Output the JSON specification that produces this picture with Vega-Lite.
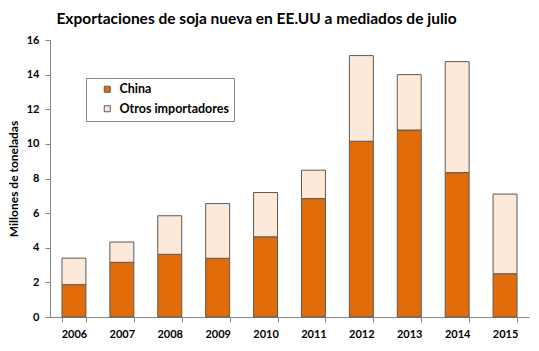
{
  "$schema": "https://vega.github.io/schema/vega-lite/v6.json",
  "width": 479,
  "height": 277,
  "autosize": {"type": "none"},
  "padding": {"left": 50, "top": 40, "right": 10, "bottom": 34},
  "background": "white",
  "title": {
    "text": "Exportaciones de soja nueva en EE.UU a mediados de julio",
    "font": "Lato",
    "fontSize": 15.5,
    "fontWeight": "bold",
    "color": "#000000",
    "anchor": "middle",
    "dx": -33,
    "offset": 7
  },
  "data": {
    "values": [
      {"anio": "2006", "serie": "China", "valor": 1.87, "orden": 1},
      {"anio": "2006", "serie": "Otros importadores", "valor": 1.53, "orden": 2},
      {"anio": "2007", "serie": "China", "valor": 3.16, "orden": 1},
      {"anio": "2007", "serie": "Otros importadores", "valor": 1.17, "orden": 2},
      {"anio": "2008", "serie": "China", "valor": 3.62, "orden": 1},
      {"anio": "2008", "serie": "Otros importadores", "valor": 2.23, "orden": 2},
      {"anio": "2009", "serie": "China", "valor": 3.39, "orden": 1},
      {"anio": "2009", "serie": "Otros importadores", "valor": 3.16, "orden": 2},
      {"anio": "2010", "serie": "China", "valor": 4.63, "orden": 1},
      {"anio": "2010", "serie": "Otros importadores", "valor": 2.56, "orden": 2},
      {"anio": "2011", "serie": "China", "valor": 6.84, "orden": 1},
      {"anio": "2011", "serie": "Otros importadores", "valor": 1.64, "orden": 2},
      {"anio": "2012", "serie": "China", "valor": 10.15, "orden": 1},
      {"anio": "2012", "serie": "Otros importadores", "valor": 4.95, "orden": 2},
      {"anio": "2013", "serie": "China", "valor": 10.8, "orden": 1},
      {"anio": "2013", "serie": "Otros importadores", "valor": 3.2, "orden": 2},
      {"anio": "2014", "serie": "China", "valor": 8.34, "orden": 1},
      {"anio": "2014", "serie": "Otros importadores", "valor": 6.41, "orden": 2},
      {"anio": "2015", "serie": "China", "valor": 2.5, "orden": 1},
      {"anio": "2015", "serie": "Otros importadores", "valor": 4.6, "orden": 2}
    ]
  },
  "mark": {"type": "bar", "stroke": "#595959", "strokeWidth": 1},
  "encoding": {
    "x": {
      "field": "anio",
      "type": "ordinal",
      "scale": {"paddingInner": 0.5, "paddingOuter": 0.25},
      "axis": {
        "title": null,
        "labelAngle": 0,
        "labelFont": "Lato",
        "labelFontSize": 11,
        "labelFontWeight": "bold",
        "labelColor": "#000000",
        "labelPadding": 6,
        "domainColor": "#868686",
        "tickColor": "#868686",
        "tickSize": 5,
        "tickBand": "extent"
      }
    },
    "y": {
      "field": "valor",
      "type": "quantitative",
      "stack": "zero",
      "scale": {"domain": [0, 16], "nice": false},
      "axis": {
        "title": "Millones de toneladas",
        "titleFont": "Lato",
        "titleFontSize": 12,
        "titleFontWeight": "bold",
        "titleColor": "#000000",
        "titlePadding": 6,
        "values": [0, 2, 4, 6, 8, 10, 12, 14, 16],
        "grid": false,
        "labelFont": "Lato",
        "labelFontSize": 11,
        "labelFontWeight": "bold",
        "labelColor": "#000000",
        "labelPadding": 6,
        "domainColor": "#868686",
        "tickColor": "#868686",
        "tickSize": 5
      }
    },
    "color": {
      "field": "serie",
      "type": "nominal",
      "scale": {"domain": ["China", "Otros importadores"], "range": ["#E36C0A", "#FDE9D9"]},
      "legend": {
        "title": null,
        "orient": "none",
        "legendX": 36,
        "legendY": 38,
        "strokeColor": "#868686",
        "padding": 5,
        "symbolOffset": 10,
        "labelOffset": 6,
        "symbolType": "square",
        "symbolSize": 36,
        "symbolStrokeColor": "#595959",
        "symbolStrokeWidth": 1,
        "labelFont": "Lato",
        "labelFontSize": 12.5,
        "labelFontWeight": "bold",
        "labelColor": "#000000",
        "rowPadding": 6.5,
        "fillColor": "white"
      }
    },
    "order": {"field": "orden", "type": "quantitative"}
  },
  "config": {"view": {"stroke": null}}
}
